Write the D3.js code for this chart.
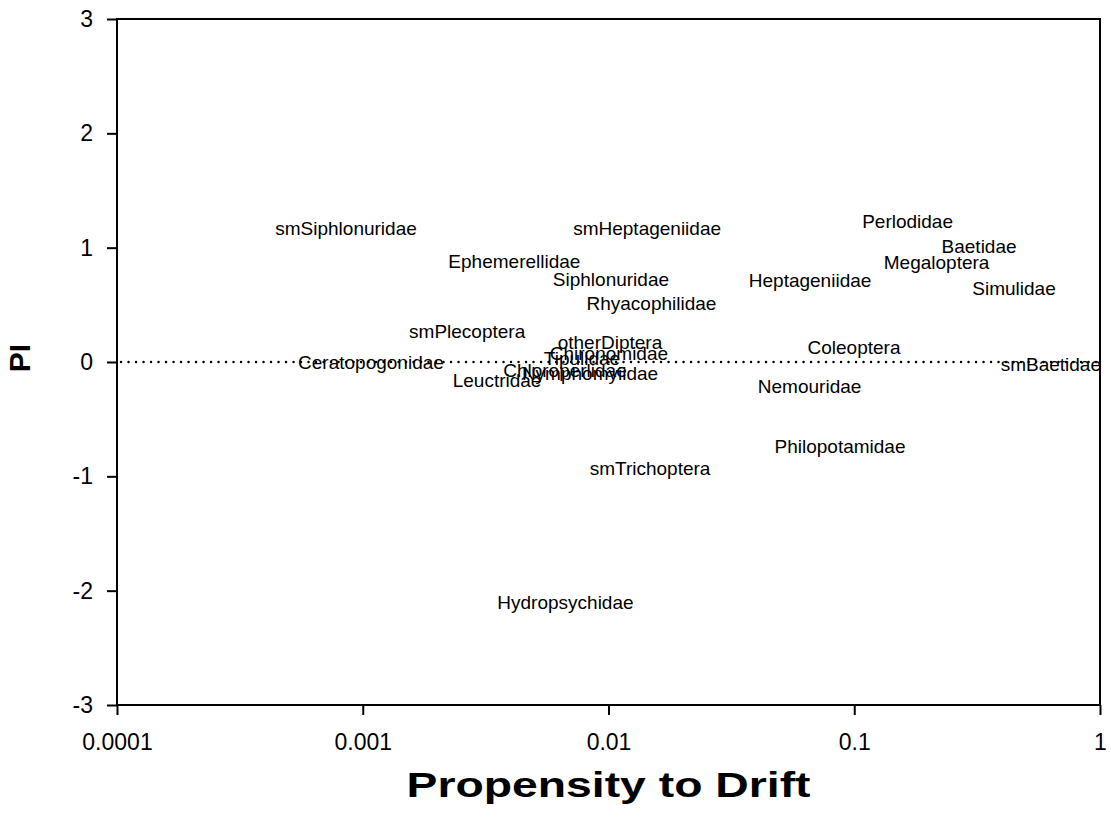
<!DOCTYPE html>
<html>
<head>
<meta charset="utf-8">
<script src="https://cdn.jsdelivr.net/npm/d3@7"></script>
<style>
  html, body { margin: 0; padding: 0; background: #fff; }
  svg { display: block; font-family: "Liberation Sans", Arial, Helvetica, sans-serif; }
</style>
</head>
<body>
<svg id="chart" width="1111" height="825"></svg>
<script>
// Taxa, their propensity to drift (log axis) and PI score
const taxa = [
  "smSiphlonuridae", "smHeptageniidae", "Ephemerellidae", "Siphlonuridae",
  "Rhyacophilidae", "smPlecoptera", "otherDiptera", "Chironomidae",
  "Tipulidae", "Ceratopogonidae", "Chloroperlidae", "Nymphomyiidae",
  "Leuctridae", "Perlodidae", "Baetidae", "Megaloptera", "Heptageniidae",
  "Simulidae", "Coleoptera", "smBaetidae", "Nemouridae", "Philopotamidae",
  "smTrichoptera", "Hydropsychidae"
];
const drift = [
  0.000855, 0.01436, 0.00414, 0.01023,
  0.01496, 0.00266, 0.01014, 0.01004,
  0.0078, 0.00108, 0.00665, 0.00841,
  0.00352, 0.1648, 0.322, 0.2163, 0.0661,
  0.4467, 0.0998, 0.631, 0.0658, 0.0875,
  0.01476, 0.00668
];
const pi = [
  1.17, 1.17, 0.88, 0.72,
  0.51, 0.27, 0.17, 0.08,
  0.03, 0.0, -0.07, -0.10,
  -0.16, 1.23, 1.01, 0.875, 0.71,
  0.64, 0.13, -0.02, -0.21, -0.735,
  -0.93, -2.10
];
const xTicks = [0.0001, 0.001, 0.01, 0.1, 1];
const xTickLabels = ["0.0001", "0.001", "0.01", "0.1", "1"];
const yTicks = [-3, -2, -1, 0, 1, 2, 3];

const svg = d3.select("#chart");
const margin = { left: 117, right: 11, top: 19, bottom: 120 };
const W = 1111, H = 825;

const x = d3.scaleLog().domain([0.0001, 1]).range([margin.left, W - margin.right]);
const y = d3.scaleLinear().domain([-3, 3]).range([H - margin.bottom, margin.top]);

// plot frame
svg.append("rect")
  .attr("x", x(0.0001)).attr("y", y(3))
  .attr("width", x(1) - x(0.0001)).attr("height", y(-3) - y(3))
  .attr("fill", "none").attr("stroke", "#000").attr("stroke-width", 2);

// zero reference line
svg.append("line")
  .attr("x1", x(0.0001) + 4).attr("x2", x(1))
  .attr("y1", y(0)).attr("y2", y(0))
  .attr("stroke", "#000").attr("stroke-width", 2.4)
  .attr("stroke-linecap", "round")
  .attr("stroke-dasharray", "0.1,7.4");

// axes
const xAxis = d3.axisBottom(x).tickValues(xTicks)
  .tickFormat((d, i) => xTickLabels[i]).tickSize(10).tickPadding(19);
const gx = svg.append("g").attr("transform", `translate(0,${y(-3)})`).call(xAxis);
gx.select(".domain").remove();
gx.selectAll("line").attr("stroke-width", 2);
gx.selectAll("text").attr("font-size", 23).attr("fill", "#000");

const yAxis = d3.axisLeft(y).tickValues(yTicks)
  .tickFormat(d => String(d)).tickSize(10).tickPadding(14);
const gy = svg.append("g").attr("transform", `translate(${x(0.0001)},0)`).call(yAxis);
gy.select(".domain").remove();
gy.selectAll("line").attr("stroke-width", 2);
gy.selectAll("text").attr("font-size", 23).attr("fill", "#000");

// point labels
svg.append("g").selectAll("text")
  .data(taxa)
  .join("text")
  .attr("x", (d, i) => x(drift[i]))
  .attr("y", (d, i) => y(pi[i]))
  .attr("dy", "0.35em")
  .attr("text-anchor", "middle")
  .attr("font-size", 19)
  .attr("fill", "#000")
  .text(d => d);

// axis titles
svg.append("text")
  .attr("x", (x(0.0001) + x(1)) / 2).attr("y", 797)
  .attr("text-anchor", "middle")
  .attr("font-size", 35).attr("font-weight", "bold")
  .attr("textLength", 404).attr("lengthAdjust", "spacingAndGlyphs")
  .text("Propensity to Drift");

svg.append("text")
  .attr("transform", `translate(30,${y(0) - 4}) rotate(-90)`)
  .attr("text-anchor", "middle")
  .attr("font-size", 30).attr("font-weight", "bold")
  .text("PI");
</script>
</body>
</html>
